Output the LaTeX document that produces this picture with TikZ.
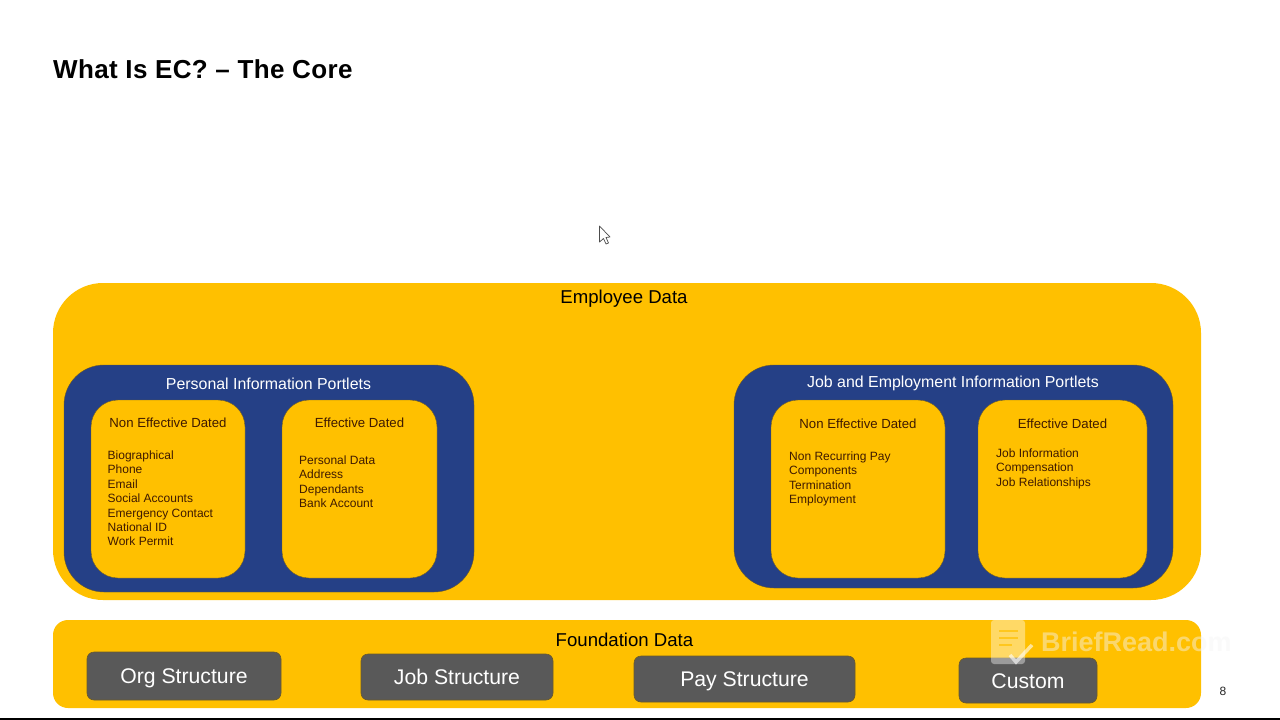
\documentclass[tikz,border=0pt]{standalone}
\usepackage{fontspec}
\setmainfont{Liberation Sans}
\newfontfamily\titlefont[LetterSpace=1.45]{Liberation Sans}
\usetikzlibrary{positioning}
\definecolor{ecyellow}{HTML}{FFC000}
\definecolor{ecblue}{HTML}{254086}
\definecolor{ecgrey}{HTML}{595959}
\definecolor{ecbrown}{HTML}{3F1A00}
\definecolor{ecedge}{HTML}{6B5A2A}
\tikzset{
	outerbox/.style={fill=ecyellow, rounded corners=#1, inner sep=0pt},
	portlet/.style={fill=ecblue, draw=ecedge, line width=.4pt, rounded corners=40pt, inner sep=0pt},
	datedbox/.style={fill=ecyellow, draw=ecedge, line width=.4pt, rounded corners=27pt, inner sep=0pt},
	greybox/.style={fill=ecgrey, draw=ecedge, line width=.6pt, rounded corners=7pt, inner sep=0pt,
		text=white, text height=15.2pt, text depth=0pt, font=\fontsize{21.2}{24}\selectfont},
	heading/.style={inner sep=0pt, font=\fontsize{18.6}{21}\selectfont, text=black},
	portlethead/.style={inner sep=0pt, font=\fontsize{15.9}{18}\selectfont, text=white},
	datedhead/.style={inner sep=0pt, font=\fontsize{13.2}{16}\selectfont, text=ecbrown},
	itemlist/.style={inner sep=0pt, align=left, text=ecbrown, font=\fontsize{12}{14.4}\selectfont},
}
\begin{document}
\begin{tikzpicture}[x=1pt,y=-1pt]
	\useasboundingbox (0,0) rectangle (1280,720);
	\fill[white] (0,0) rectangle (1280,720);
	\node[anchor=west, inner sep=0pt, font=\titlefont\bfseries\fontsize{26}{29}\selectfont] (title) at (53,69.5) {What Is EC? – The Core};

	\node[outerbox=50pt, minimum width=1148pt, minimum height=317pt] (employee) at (627,441.5) {};
	\node[heading] (employeehead) at (624,299) {Employee Data};

	\node[portlet, minimum width=410pt, minimum height=227pt] (personal) at (269,478.5) {};
	\node[portlethead] (personalhead) at (268.5,383.5) {Personal Information Portlets};
	\node[datedbox, minimum width=154pt, minimum height=178pt] (pnon) at (168,489) {};
	\node[datedbox, minimum width=155pt, minimum height=178pt] (peff) at (359.5,489) {};
	\node[datedhead] (pnonhead) at (168,423) {Non Effective Dated};
	\node[datedhead] (peffhead) at (359.5,423) {Effective Dated};
	\node[itemlist, anchor=north west] (pnonlist) at (107.5,450.5) {Biographical\\Phone\\Email\\Social Accounts\\Emergency Contact\\National ID\\Work Permit};
	\node[itemlist, anchor=north west] (pefflist) at (299,455.5) {Personal Data\\Address\\Dependants\\Bank Account};

	\node[portlet, minimum width=439pt, minimum height=223pt] (job) at (953.5,476.5) {};
	\node[portlethead] (jobhead) at (953,383) {Job and Employment Information Portlets};
	\node[datedbox, minimum width=174pt, minimum height=178pt] (jnon) at (858,489) {};
	\node[datedbox, minimum width=169pt, minimum height=178pt] (jeff) at (1062.5,489) {};
	\node[datedhead] (jnonhead) at (858,423.5) {Non Effective Dated};
	\node[datedhead] (jeffhead) at (1062.5,423.5) {Effective Dated};
	\node[itemlist, anchor=north west] (jnonlist) at (789,451.5) {Non Recurring Pay\\Components\\Termination\\Employment};
	\node[itemlist, anchor=north west] (jefflist) at (996,448.5) {Job Information\\Compensation\\Job Relationships};

	\node[outerbox=15pt, minimum width=1148pt, minimum height=88pt] (foundation) at (627,664) {};
	\node[heading] (foundationhead) at (624.5,640) {Foundation Data};
	\node[greybox, minimum width=194pt, minimum height=48pt] (org) at (184,676) {Org Structure};
	\node[greybox, minimum width=192pt, minimum height=46pt] (jobs) at (457,677) {Job Structure};
	\node[greybox, minimum width=221pt, minimum height=46pt] (pay) at (744.5,679) {Pay Structure};
	\node[greybox, minimum width=138pt, minimum height=45pt] (custom) at (1028,680.5) {Custom};

	% watermark
	\fill[white, opacity=.4, rounded corners=3pt] (991,620) -- (1025,620) -- (1025,664) -- (991,664) -- cycle;
	\draw[ecyellow, opacity=.7, line width=2pt] (999,631) -- (1018,631) (999,638) -- (1018,638) (999,645) -- (1012,645);
	\draw[white, opacity=.6, line width=3.5pt] (1010,655) -- (1016,662) -- (1032,645);
	\node[anchor=west, inner sep=0pt, text=black!4, opacity=.45, font=\bfseries\fontsize{27}{30}\selectfont] (brand) at (1041,642) {BriefRead.com};

	\node[inner sep=0pt, text=black!85, font=\fontsize{12}{14}\selectfont] (page) at (1223,691.5) {8};

	% mouse pointer
	\draw[fill=white, draw=black!70, line width=.7pt, line join=round] (599.5,226) -- (599.5,242) -- (603.5,238.5) -- (606,244) -- (608.5,243) -- (606,237.5) -- (610,237) -- cycle;

	\fill[black] (0,718) rectangle (1280,720);
\end{tikzpicture}
\end{document}
